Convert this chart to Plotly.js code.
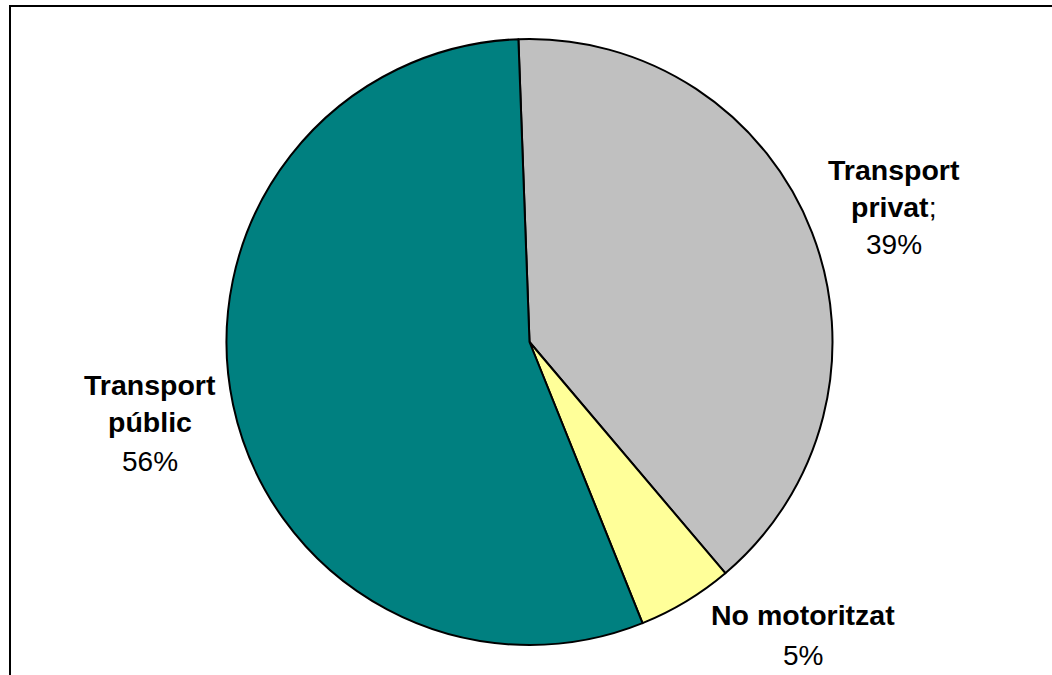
<!DOCTYPE html>
<html>
<head>
<meta charset="utf-8">
<script src="https://cdn.plot.ly/plotly-3.0.1.min.js"></script>
<style>
  html, body { margin: 0; padding: 0; background: #fff; }
  #chart { width: 1052px; height: 675px; }
</style>
</head>
<body>
<div id="chart"></div>
<script>
// ---- data ----
const labels = ["Transport privat", "No motoritzat", "Transport públic"];
const values = [39.4, 5.1, 55.5];
const labelSeparators = [";", "", ""];
const wrapLabel = [true, false, true];

// ---- styles / layout helpers ----
const colors = ["#C0C0C0", "#FFFF99", "#008080"];
const W = 1052, H = 675;
const px = x => x / W;
const py = y => 1 - y / H;

// label block positions (pixel centers of each line)
const labelPos = [
  {x: 894, ys: [170, 207, 245]},
  {x: 803, ys: [615, 655]},
  {x: 150, ys: [385, 422, 461]}
];

const total = values.reduce((a, b) => a + b, 0);
const annotations = [];
labels.forEach((lab, i) => {
  const words = wrapLabel[i] ? lab.split(" ") : [lab];
  const lines = words.map((w, k) => "<b>" + w + "</b>" + (k === words.length - 1 ? labelSeparators[i] : ""));
  lines.push(Math.round(values[i] / total * 100) + "%");
  lines.forEach((t, k) => {
    const isPct = k === lines.length - 1;
    annotations.push({
      xref: "paper", yref: "paper",
      x: px(labelPos[i].x), y: py(labelPos[i].ys[k]),
      xanchor: "center", yanchor: "middle",
      text: t, showarrow: false,
      font: {family: "Liberation Sans, Arial, sans-serif", size: isPct ? 28 : 28.5, color: "#000"}
    });
  });
});

const cx = 529.5, cy = 342, r = 303;
const trace = {
  type: "pie",
  labels: labels,
  values: values,
  sort: false,
  direction: "clockwise",
  rotation: -2.1,
  marker: {colors: colors, line: {color: "#000", width: 2}},
  textinfo: "none",
  hoverinfo: "skip",
  showlegend: false,
  domain: {
    x: [px(cx - r), px(cx + r)],
    y: [py(cy + r), py(cy - r)]
  }
};

const layout = {
  width: W, height: H,
  margin: {l: 0, r: 0, t: 0, b: 0},
  paper_bgcolor: "#fff",
  showlegend: false,
  annotations: annotations,
  shapes: [
    {type: "line", xref: "paper", yref: "paper", x0: px(9), x1: 1, y0: py(6), y1: py(6), line: {color: "#000", width: 2}},
    {type: "line", xref: "paper", yref: "paper", x0: px(10), x1: px(10), y0: py(5), y1: 0, line: {color: "#000", width: 2}}
  ]
};

Plotly.newPlot("chart", [trace], layout, {displayModeBar: false, staticPlot: true});
</script>
</body>
</html>
